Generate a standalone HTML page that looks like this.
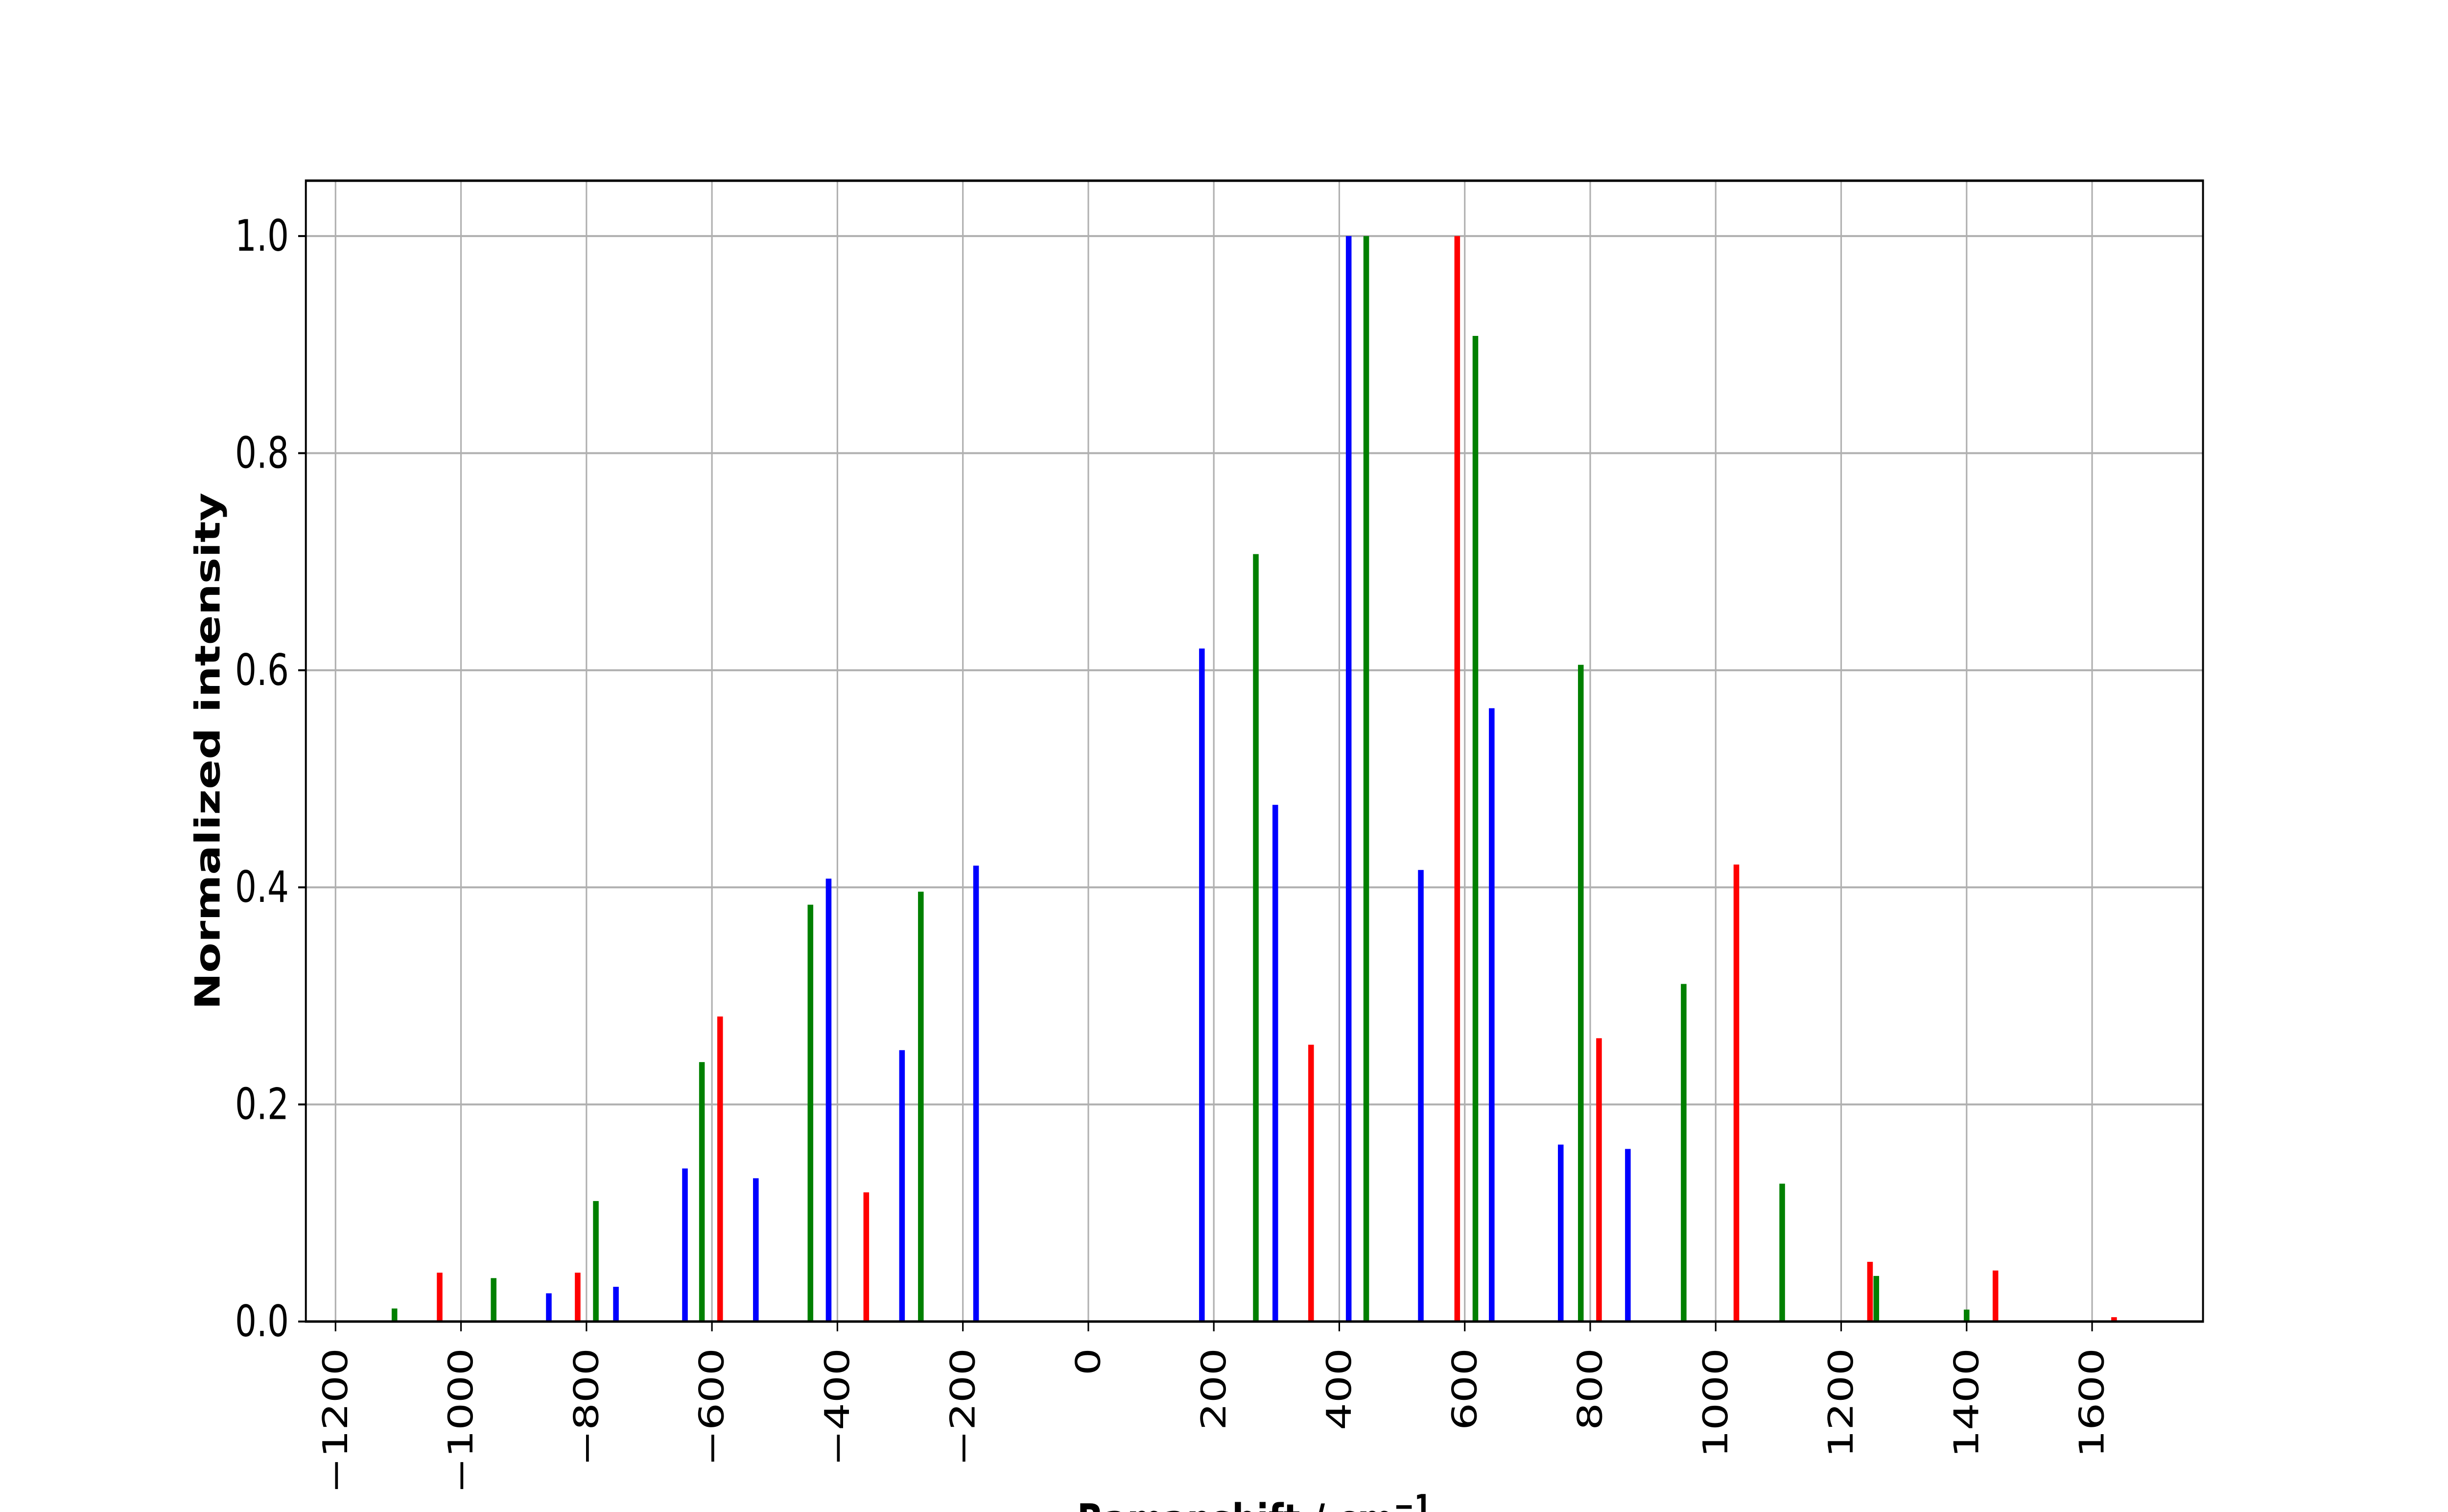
<!DOCTYPE html>
<html><head><meta charset="utf-8"><style>
html,body{margin:0;padding:0;background:#fff;overflow:hidden;width:100%;height:100%}
svg{display:block;position:fixed;left:0;top:0;width:100vw;height:100vh}
text{font-family:"DejaVu Sans","Liberation Sans",sans-serif}
</style></head><body>
<svg id="chart" viewBox="0 0 6355 3088" preserveAspectRatio="none" xmlns="http://www.w3.org/2000/svg">
<rect x="0" y="0" width="6355" height="3088" fill="#fff"/>
<g id="grid"></g>
<g id="bars"></g>
<g id="axes"></g>
<text x="540" y="1534" font-size="90" font-weight="bold" text-anchor="middle" dominant-baseline="central" transform="rotate(-90 540 1534)">Normalized intensity</text>
<text x="3256" y="3136" font-size="90" font-weight="bold" text-anchor="middle">Ramanshift / cm<tspan dy="-38" font-size="64">−1</tspan></text>
</svg>
<script>
const blueX = [-860,-753,-643,-530,-414,-297,-179,181,298,415,530,643,753,860];
const blueY = [0.026,0.032,0.141,0.132,0.408,0.25,0.42,0.62,0.476,1.0,0.416,0.565,0.163,0.159];
const greenX = [-1106,-948,-785,-616,-443,-267,267,443,617,785,949,1106,1256,1400];
const greenY = [0.012,0.040,0.111,0.239,0.384,0.396,0.707,1.0,0.908,0.605,0.311,0.127,0.042,0.011];
const redX = [-1034,-814,-587,-354,355,588,814,1033,1246,1446,1635];
const redY = [0.045,0.045,0.281,0.119,0.255,1.0,0.261,0.421,0.055,0.047,0.004];
const xTicks = [-1200,-1000,-800,-600,-400,-200,0,200,400,600,800,1000,1200,1400,1600];
const yTicks = [0.0,0.2,0.4,0.6,0.8,1.0];

const L=794,R=5719,T=369,B=2699;
const XMIN=-1247.3,XMAX=1776.8,YMIN=0,YMAX=1.051;
const sx=v=>L+(v-XMIN)/(XMAX-XMIN)*(R-L);
const sy=v=>B-(v-YMIN)/(YMAX-YMIN)*(B-T);
const NS="http://www.w3.org/2000/svg";
function mk(tag,attrs,parent){const e=document.createElementNS(NS,tag);for(const k in attrs)e.setAttribute(k,attrs[k]);parent.appendChild(e);return e;}
const grid=document.getElementById('grid'),bars=document.getElementById('bars'),axes=document.getElementById('axes');
xTicks.forEach(t=>{
  const g=mk('line',{x1:sx(t),x2:sx(t),y1:T,y2:B,stroke:'#b0b0b0','stroke-width':4},grid);
  
  
  const tk=mk('line',{x1:sx(t),x2:sx(t),y1:B,y2:B+20,stroke:'#000','stroke-width':4},axes);
  
  
  const x=sx(t),y=2753;
  const lb=mk('text',{x:x,y:y,'font-size':88,'text-anchor':'end','dominant-baseline':'central',transform:`rotate(-90 ${x} ${y})`},axes);
  lb.textContent=(t<0?'−'+(-t):String(t));
  
  
});
yTicks.forEach(t=>{
  const g=mk('line',{x1:L,x2:R,y1:sy(t),y2:sy(t),stroke:'#b0b0b0','stroke-width':4},grid);
  
  
  const tk=mk('line',{x1:L-20,x2:L,y1:sy(t),y2:sy(t),stroke:'#000','stroke-width':4},axes);
  
  
  const lb=mk('text',{x:750,y:sy(t),'font-size':88,'text-anchor':'end','dominant-baseline':'central'},axes);
  lb.textContent=t.toFixed(1);
  
  
});
const BW=9;
function series(xs,ys,color,name){
  xs.forEach((x,i)=>{
    const x0=sx(x-BW/2),x1=sx(x+BW/2);
    const r=mk('rect',{x:x0,y:sy(ys[i]),width:x1-x0,height:sy(0)-sy(ys[i]),fill:color},bars);
    
    
  });
}
series(blueX,blueY,'#0000ff','bar-blue');
series(greenX,greenY,'#008000','bar-green');
series(redX,redY,'#ff0000','bar-red');
const fr=mk('rect',{x:L,y:T,width:R-L,height:B-T,fill:'none',stroke:'#000','stroke-width':5},axes);


</script>
</body></html>
